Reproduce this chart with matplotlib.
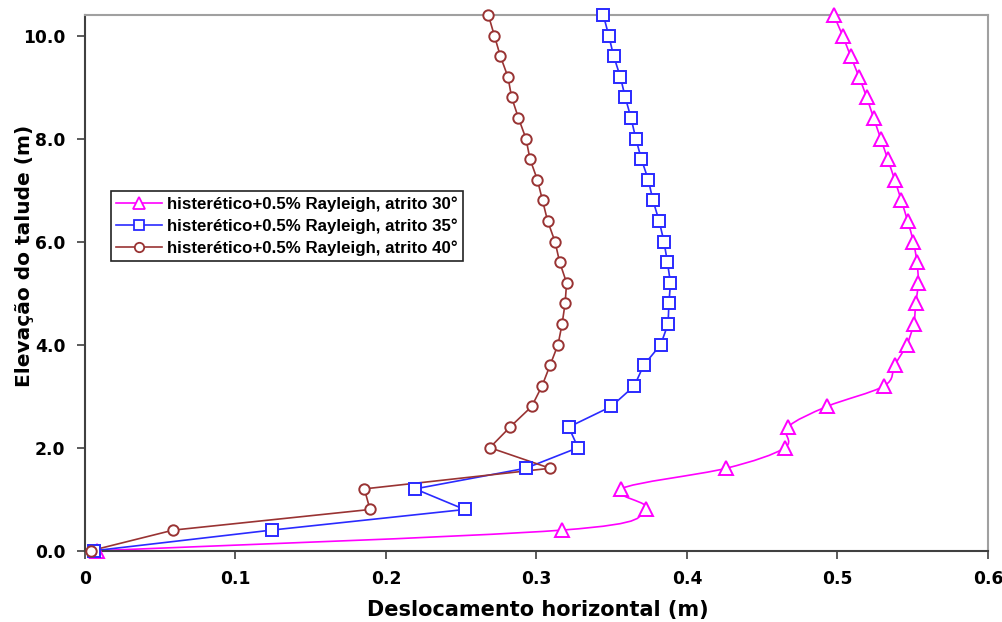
import numpy as np
import matplotlib
matplotlib.use("Agg")
import matplotlib.pyplot as plt
from matplotlib.path import Path
from matplotlib.patches import PathPatch
from matplotlib.lines import Line2D

plt.rcParams['font.family'] = ['DejaVu Sans']
plt.rcParams['font.weight'] = 'bold'

# Elevation of each monitoring point along the slope (m)
elevacao = [0.0, 0.4, 0.8, 1.2, 1.6, 2.0, 2.4, 2.8, 3.2, 3.6, 4.0, 4.4, 4.8,
            5.2, 5.6, 6.0, 6.4, 6.8, 7.2, 7.6, 8.0, 8.4, 8.8, 9.2, 9.6, 10.0, 10.4]

# Horizontal displacement (m) for each friction angle
desl_30 = [0.008, 0.317, 0.3725, 0.356, 0.426, 0.465, 0.467, 0.493, 0.531,
           0.538, 0.546, 0.5506, 0.552, 0.5537, 0.5528, 0.5504, 0.5466, 0.5424,
           0.538, 0.5334, 0.5287, 0.524, 0.5194, 0.5143, 0.5087, 0.5034, 0.4974]
desl_35 = [0.0062, 0.124, 0.2523, 0.2193, 0.2928, 0.3276, 0.3214, 0.3497, 0.365,
           0.3712, 0.3825, 0.3874, 0.388, 0.389, 0.387, 0.3847, 0.3815, 0.3774,
           0.3743, 0.3697, 0.366, 0.3628, 0.359, 0.3557, 0.3513, 0.348, 0.3444]
desl_40 = [0.0038, 0.0587, 0.1894, 0.1856, 0.309, 0.269, 0.2824, 0.2968, 0.3037,
           0.309, 0.3143, 0.317, 0.319, 0.320, 0.3154, 0.3123, 0.3074, 0.304,
           0.3006, 0.2957, 0.293, 0.288, 0.2835, 0.281, 0.276, 0.272, 0.268]

rotulos = ['histerético+0.5% Rayleigh, atrito 30°',
           'histerético+0.5% Rayleigh, atrito 35°',
           'histerético+0.5% Rayleigh, atrito 40°']
cores = ['#ff00ff', '#2a2aff', '#993333']
marcadores = ['^', 's', 'o']
tam_marcador = [10, 8.5, 7.5]


def curva_suave(x, y):
    """Bezier path through the points (smoothed line)."""
    pts = np.column_stack([x, y])
    n = len(pts)
    verts = [pts[0]]
    codes = [Path.MOVETO]
    for i in range(n - 1):
        p0 = pts[i - 1] if i > 0 else pts[i]
        p1 = pts[i]
        p2 = pts[i + 1]
        p3 = pts[i + 2] if i + 2 < n else pts[i + 1]
        c1 = p1 + (p2 - p0) / 6.0
        c2 = p2 - (p3 - p1) / 6.0
        verts += [c1, c2, p2]
        codes += [Path.CURVE4] * 3
    return Path(verts, codes)


fig = plt.figure(figsize=(10.03, 6.22), dpi=100)
ax = fig.add_axes([85 / 1003, 1 - 550.7 / 622, 903 / 1003, 535.7 / 622])

series = [desl_30, desl_35, desl_40]
handles = []
for k, (xs, cor, mk, ms, lab) in enumerate(zip(series, cores, marcadores, tam_marcador, rotulos)):
    if k == 0:
        ax.add_patch(PathPatch(curva_suave(xs, elevacao), fill=False,
                               edgecolor=cor, lw=1.2, zorder=2))
    else:
        ax.plot(xs, elevacao, color=cor, lw=1.2, zorder=2)
    ax.plot(xs, elevacao, linestyle='none', marker=mk, ms=ms, mfc='white',
            mec=cor, mew=1.4, zorder=3, clip_on=False)
    handles.append(Line2D([], [], color=cor, lw=1.2, marker=mk, ms=ms * 0.9,
                          mfc='white', mec=cor, mew=1.3, label=lab))

ax.set_xlim(0, 0.6)
ax.set_ylim(0, 10.4)
ax.set_xticks([0, 0.1, 0.2, 0.3, 0.4, 0.5, 0.6])
ax.set_xticklabels(['0', '0.1', '0.2', '0.3', '0.4', '0.5', '0.6'])
ax.set_yticks([0, 2, 4, 6, 8, 10])
ax.set_yticklabels(['0.0', '2.0', '4.0', '6.0', '8.0', '10.0'])
ax.tick_params(direction='out', length=6, width=1.2, color='#404040',
               labelsize=12.3, pad=8)
for lbl in ax.get_xticklabels() + ax.get_yticklabels():
    lbl.set_fontweight('bold')

for s in ['left', 'bottom']:
    ax.spines[s].set_color('#404040')
    ax.spines[s].set_linewidth(1.5)
for s in ['top', 'right']:
    ax.spines[s].set_color('#a0a0a0')
    ax.spines[s].set_linewidth(1.5)

ax.set_xlabel('Deslocamento horizontal (m)', fontsize=15, fontweight='bold')
ax.set_ylabel('Elevação do talude (m)', fontsize=14.5, fontweight='bold')
ax.xaxis.set_label_coords(0.5017, -0.092)
ax.yaxis.set_label_coords(-0.057, 0.55)

leg = ax.legend(handles=handles, loc='upper left',
                bbox_to_anchor=((111 - 85) / 903, (550.7 - 191) / 535.7),
                borderaxespad=0, fancybox=False, framealpha=1, edgecolor='#222222',
                prop={'family': 'Liberation Sans', 'weight': 'bold', 'size': 12.2},
                handlelength=2.7, handletextpad=0.3, labelspacing=0.4,
                borderpad=0.3)
leg.get_frame().set_linewidth(1.2)

fig.savefig('out.png', dpi=100)
